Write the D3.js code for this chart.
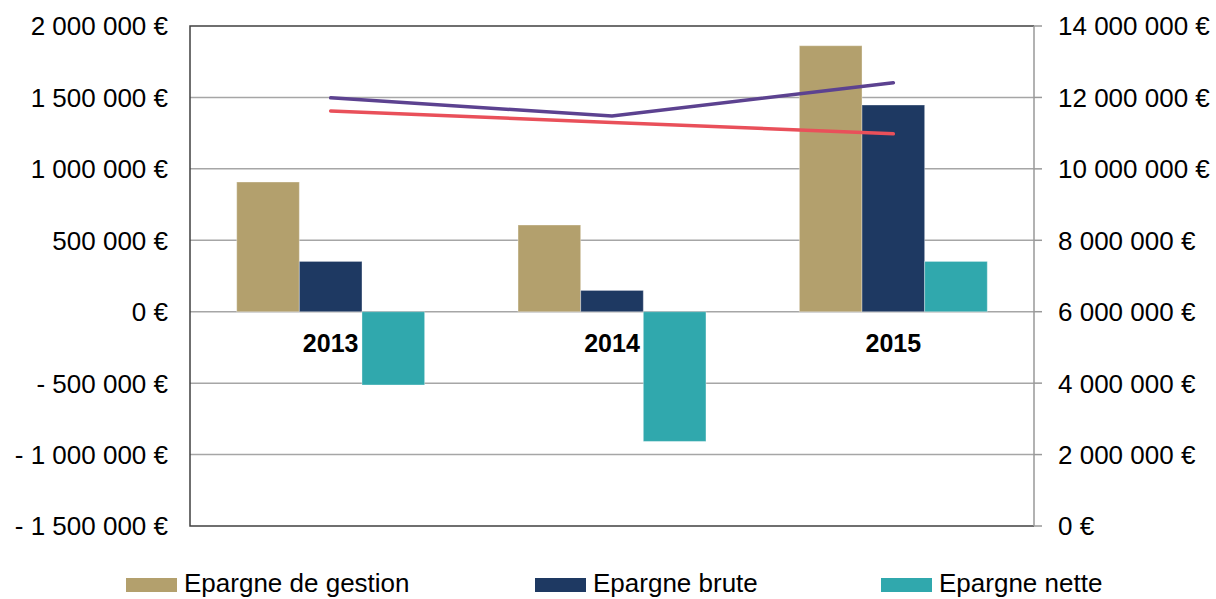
<!DOCTYPE html>
<html>
<head>
<meta charset="utf-8">
<script src="https://cdn.jsdelivr.net/npm/d3@7"></script>
<style>
  body { margin: 0; background: #fff; }
  text { font-family: "Liberation Sans", Arial, sans-serif; fill: #000; }
</style>
</head>
<body>
<div class="chart"></div>
<script>
// values
const years = ["2013", "2014", "2015"];
const barSeries = ["Epargne de gestion", "Epargne brute", "Epargne nette"];
const epargneGestion = [908000, 607000, 1862000];
const epargneBrute = [352000, 149000, 1447000];
const epargneNette = [-513000, -908000, 352000];
// two lines on the right axis (no legend entry in the reference)
const lineA = [11990000, 11480000, 12410000];
const lineB = [11620000, 11300000, 10980000];
const leftTicks = [-1500000, -1000000, -500000, 0, 500000, 1000000, 1500000, 2000000];
const rightTicks = [0, 2000000, 4000000, 6000000, 8000000, 10000000, 12000000, 14000000];

const barColors = ["#B3A06D", "#1E3962", "#30A8AD"];
const lineColors = ["#5C4290", "#E9505A"];

const width = 1216, height = 599;
const plotLeft = 190, plotRight = 1034, plotTop = 26, plotBottom = 526;

const svg = d3.select("div.chart")
    .append("svg")
    .attr("width", width)
    .attr("height", height);

const yL = d3.scaleLinear().domain([-1500000, 2000000]).range([plotBottom, plotTop]);
const yR = d3.scaleLinear().domain([0, 14000000]).range([plotBottom, plotTop]);
const x0 = d3.scaleBand().domain(years).range([plotLeft, plotRight]).padding(0);
const step = x0.step();
const gap = 0.332;
const x1 = d3.scaleBand().domain(barSeries)
    .range([step * gap / 2, step * (1 - gap / 2)]).padding(0);

// french style number formatting
const fmt = v => {
    let s = d3.format(",")(Math.abs(v)).replace(/,/g, " ");
    return (v < 0 ? "- " : "") + s + " €";
};

// gridlines
svg.append("g")
    .selectAll("line")
    .data(leftTicks.slice(1, -1))
    .enter()
    .append("line")
    .attr("x1", plotLeft).attr("x2", plotRight)
    .attr("y1", d => yL(d)).attr("y2", d => yL(d))
    .attr("stroke", "#A6A6A6")
    .attr("stroke-width", 1.5);

// bars
const rows = years.map((y, i) => ({
    year: y,
    values: [epargneGestion[i], epargneBrute[i], epargneNette[i]]
}));

svg.append("g")
    .selectAll("g")
    .data(rows)
    .enter()
    .append("g")
    .attr("transform", d => `translate(${x0(d.year)},0)`)
    .selectAll("rect")
    .data(d => d.values.map((v, j) => ({ key: barSeries[j], value: v, j: j })))
    .enter()
    .append("rect")
    .attr("x", d => x1(d.key))
    .attr("width", x1.bandwidth())
    .attr("y", d => yL(Math.max(0, d.value)))
    .attr("height", d => Math.abs(yL(d.value) - yL(0)))
    .attr("fill", d => barColors[d.j])
    .attr("stroke", "rgba(255,255,255,0.35)")
    .attr("stroke-width", 1);

// lines on the secondary axis
const line = d3.line()
    .x((d, i) => x0(years[i]) + step / 2)
    .y(d => yR(d));

[lineA, lineB].forEach((s, k) => {
    svg.append("path")
        .datum(s)
        .attr("d", line)
        .attr("fill", "none")
        .attr("stroke", lineColors[k])
        .attr("stroke-width", 3.5)
        .attr("stroke-linecap", "round");
});

// category labels next to the zero line
svg.append("g")
    .selectAll("text")
    .data(years)
    .enter()
    .append("text")
    .attr("x", d => x0(d) + step / 2)
    .attr("y", yL(0) + 40)
    .attr("text-anchor", "middle")
    .style("font-size", "25px")
    .style("font-weight", "bold")
    .text(d => d);

// frame
const frame = svg.append("g").attr("fill", "none");
frame.append("path")
    .attr("d", `M${plotRight},${plotTop}H${plotLeft}V${plotBottom}H${plotRight}`)
    .attr("stroke", "#404040")
    .attr("stroke-width", 1.5);
frame.append("line")
    .attr("x1", plotRight).attr("x2", plotRight)
    .attr("y1", plotTop).attr("y2", plotBottom)
    .attr("stroke", "#999")
    .attr("stroke-width", 1.5);

// left axis labels
svg.append("g")
    .selectAll("text")
    .data(leftTicks)
    .enter()
    .append("text")
    .attr("x", 168)
    .attr("y", d => yL(d))
    .attr("dy", "0.36em")
    .attr("text-anchor", "end")
    .style("font-size", "26px")
    .text(d => fmt(d));

// right axis with outward ticks
const rAxis = svg.append("g").attr("transform", `translate(${plotRight},0)`);
rAxis.selectAll("line")
    .data(rightTicks)
    .enter()
    .append("line")
    .attr("x1", 0).attr("x2", 8)
    .attr("y1", d => yR(d)).attr("y2", d => yR(d))
    .attr("stroke", "#999")
    .attr("stroke-width", 1.5);
rAxis.selectAll("text")
    .data(rightTicks)
    .enter()
    .append("text")
    .attr("x", 24)
    .attr("y", d => yR(d))
    .attr("dy", "0.36em")
    .style("font-size", "26px")
    .text(d => fmt(d));

// legend
const legendX = [126, 535, 881];
const legend = svg.append("g")
    .selectAll("g")
    .data(barSeries)
    .enter()
    .append("g")
    .attr("transform", (d, i) => `translate(${legendX[i]},578)`);
legend.append("rect")
    .attr("width", 51).attr("height", 14)
    .attr("fill", (d, i) => barColors[i]);
legend.append("text")
    .attr("x", 58)
    .attr("y", 14)
    .style("font-size", "26px")
    .text(d => d);
</script>
</body>
</html>
